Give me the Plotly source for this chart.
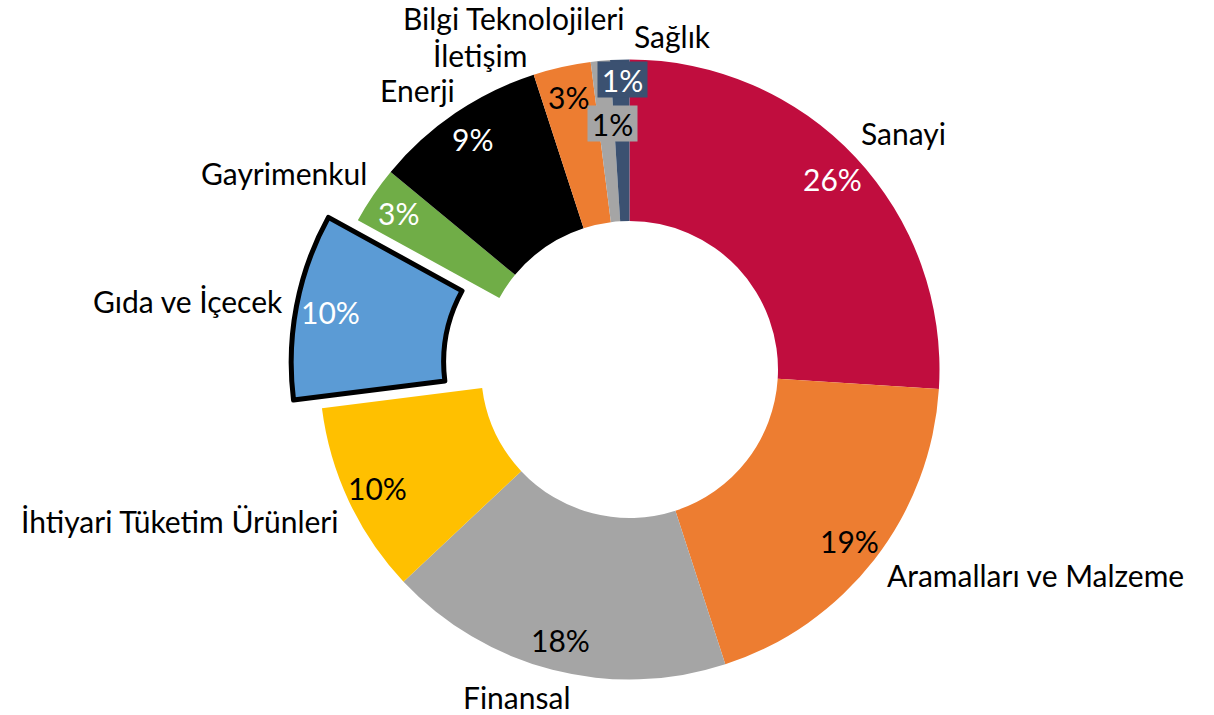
import math
import plotly.graph_objects as go

# ---- data -------------------------------------------------------------
sectors = [
    "Sanayi",
    "Aramalları ve Malzeme",
    "Finansal",
    "İhtiyari Tüketim Ürünleri",
    "Gıda ve İçecek",
    "Gayrimenkul",
    "Enerji",
    "Bilgi Teknolojileri",
    "İletişim",
    "Sağlık",
]
shares = [26, 19, 18, 10, 10, 3, 9, 3, 1, 1]

# ---- styling ----------------------------------------------------------
colors = ["#C00D3E", "#ED7D31", "#A5A5A5", "#FFC000", "#5B9BD5",
          "#70AD47", "#000000", "#ED7D31", "#A5A5A5", "#3B5171"]
pct_font_colors = ["white", "black", "black", "black", "white",
                   "white", "white", "black", "black", "white"]
FONT = "Lato"
FS = 30

W, H = 1214, 715
CX, CY = 629.5, 369.5          # ring centre (px)
R_OUT, R_IN = 310.0, 148.5     # ring radii (px)
EXPLODED = "Gıda ve İçecek"
EXPLODE_DIST = 38.0            # offset of the highlighted slice (px)
R_OUT_EXPLODED = 301.0

# label anchor points (px, centre of text)
label_pos = {
    "Sanayi": (903, 133),
    "Aramalları ve Malzeme": (1035, 575),
    "Finansal": (516, 697),
    "İhtiyari Tüketim Ürünleri": (179, 521),
    "Gıda ve İçecek": (188, 301),
    "Gayrimenkul": (284, 173),
    "Enerji": (417, 90),
    "Bilgi Teknolojileri": (513, 18),
    "İletişim": (480, 55),
    "Sağlık": (672, 36),
}
# percentage boxes for the thinnest slices, moved outside the ring
boxed_pct_pos = {
    "İletişim": (612.5, 123),
    "Sağlık": (622.5, 79.5),
}


def px(x):
    return x / W


def py(y):
    return 1 - y / H


def domain_for(cx, cy, r):
    return dict(x=[px(cx - r), px(cx + r)], y=[py(cy + r), py(cy - r)])


idx_ex = sectors.index(EXPLODED)
total = sum(shares)
cum = [sum(shares[:i]) for i in range(len(shares))]
mid_angle = [2 * math.pi * (c + v / 2) / total for c, v in zip(cum, shares)]

# centre of the pulled-out slice
ex_dx = EXPLODE_DIST * math.sin(mid_angle[idx_ex])
ex_dy = -EXPLODE_DIST * math.cos(mid_angle[idx_ex])
ECX, ECY = CX + ex_dx, CY + ex_dy

fig = go.Figure()

# main ring (the highlighted slice is drawn separately)
main_colors = [("rgba(0,0,0,0)" if i == idx_ex else c) for i, c in enumerate(colors)]
fig.add_trace(go.Pie(
    labels=sectors,
    values=shares,
    sort=False,
    direction="clockwise",
    rotation=0,
    hole=R_IN / R_OUT,
    textinfo="none",
    marker=dict(colors=main_colors, line=dict(width=0)),
    domain=domain_for(CX, CY, R_OUT),
    showlegend=False,
))

# pulled-out slice with heavy outline
ex_colors = [(c if i == idx_ex else "rgba(0,0,0,0)") for i, c in enumerate(colors)]
ex_widths = [(5 if i == idx_ex else 0) for i in range(len(sectors))]
fig.add_trace(go.Pie(
    labels=sectors,
    values=shares,
    sort=False,
    direction="clockwise",
    rotation=0,
    hole=R_IN / R_OUT_EXPLODED,
    textinfo="none",
    marker=dict(colors=ex_colors, line=dict(color="black", width=ex_widths)),
    domain=domain_for(ECX, ECY, R_OUT_EXPLODED),
    showlegend=False,
))

annotations = []

# percentage labels inside the ring
for i, (name, v) in enumerate(zip(sectors, shares)):
    text = f"{v}%"
    if name in boxed_pct_pos:
        bx, by = boxed_pct_pos[name]
        annotations.append(dict(
            x=px(bx), y=py(by), xref="paper", yref="paper",
            text=text, showarrow=False, xanchor="center", yanchor="middle",
            font=dict(family=FONT, size=FS, color=pct_font_colors[i]),
            bgcolor=colors[i], width=47, height=33, borderpad=1,
        ))
        continue
    if i == idx_ex:
        cx0, cy0, rl = ECX, ECY, 0.885 * R_OUT_EXPLODED
    else:
        cx0, cy0, rl = CX, CY, 0.9 * R_OUT
    x = cx0 + rl * math.sin(mid_angle[i])
    y = cy0 - rl * math.cos(mid_angle[i])
    annotations.append(dict(
        x=px(x), y=py(y), xref="paper", yref="paper",
        text=text, showarrow=False, xanchor="center", yanchor="middle",
        font=dict(family=FONT, size=FS, color=pct_font_colors[i]),
    ))

# category names around the ring
for name in sectors:
    lx, ly = label_pos[name]
    annotations.append(dict(
        x=px(lx), y=py(ly), xref="paper", yref="paper",
        text=name, showarrow=False, xanchor="center", yanchor="middle",
        font=dict(family=FONT, size=FS, color="black"),
    ))

fig.update_layout(
    width=W, height=H,
    margin=dict(l=0, r=0, t=0, b=0),
    paper_bgcolor="white",
    plot_bgcolor="white",
    annotations=annotations,
    showlegend=False,
)

fig.write_html("out.html")
